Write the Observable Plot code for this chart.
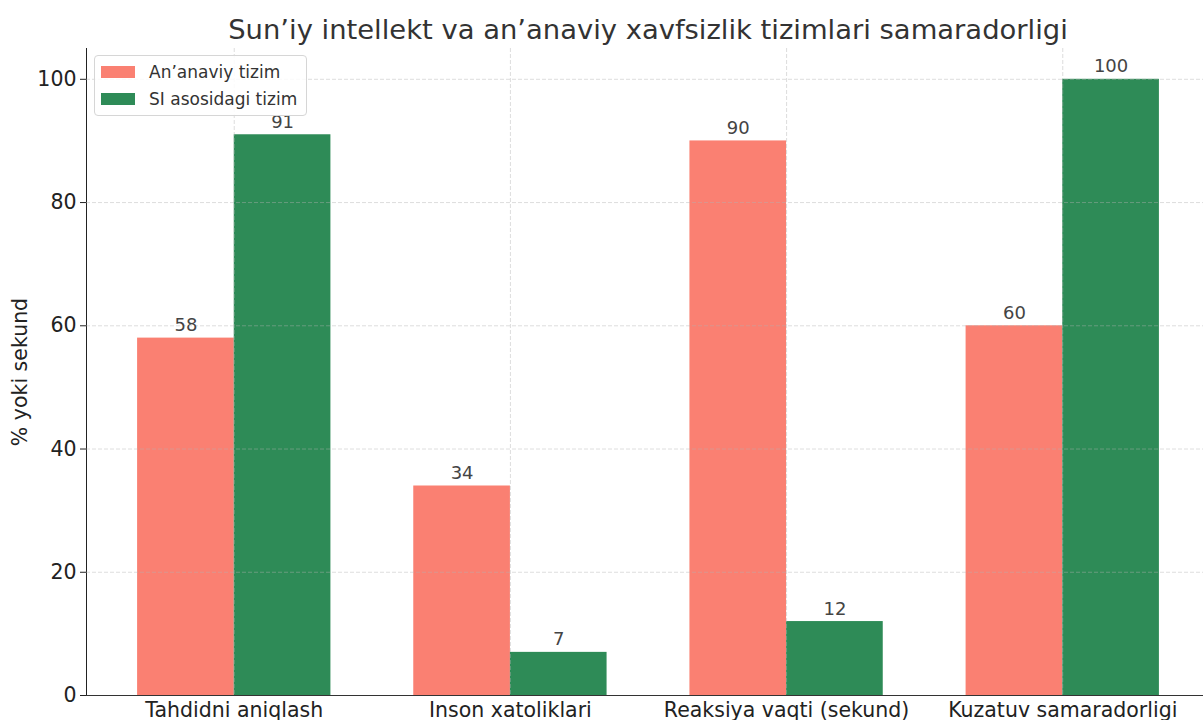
<!DOCTYPE html>
<html>
<head>
<meta charset="utf-8">
<script src="https://cdn.jsdelivr.net/npm/d3@7"></script>
<script src="https://cdn.jsdelivr.net/npm/@observablehq/plot@0.6"></script>
<style>
html, body { margin: 0; padding: 0; background: #fff; overflow: hidden; }
body { font-family: "DejaVu Sans", sans-serif; width: 1203px; height: 720px; position: relative; }
#title { position: absolute; left: 86px; width: 1124px; top: 16px; line-height: 28px; text-align: center; font-size: 27.4px; color: #333; white-space: nowrap; }
#chart { position: absolute; left: 0; top: 40px; width: 1230px; }
#chart svg { max-width: none !important; }
#ylabel { position: absolute; left: 20px; top: 372px; transform: translate(-50%, -50%) rotate(-90deg); font-size: 20.5px; color: #222; white-space: nowrap; }
#legend { position: absolute; left: 94px; top: 55px; width: 213px; height: 61px; border: 1px solid #d6d6d6; border-radius: 4px; background: rgba(255,255,255,0.85); box-sizing: border-box; }
.item { position: absolute; left: 6px; height: 20px; display: flex; align-items: center; font-size: 17px; color: #333; white-space: nowrap; }
.sw { width: 34px; height: 12px; margin-right: 14px; }
</style>
</head>
<body>
<div id="title">Sun’iy intellekt va an’anaviy xavfsizlik tizimlari samaradorligi</div>
<div id="chart"></div>
<div id="ylabel">% yoki sekund</div>
<div id="legend"></div>
<script>
const categories = ["Tahdidni aniqlash", "Inson xatoliklari", "Reaksiya vaqti (sekund)", "Kuzatuv samaradorligi"];
const seriesNames = ["An’anaviy tizim", "SI asosidagi tizim"];
const traditional = [58, 34, 90, 60];
const aiBased = [91, 7, 12, 100];
const yTicks = [0, 20, 40, 60, 80, 100];
const colors = ["#FA8072", "#2E8B57"];

const barWidth = 0.35;
const offsets = [-barWidth, 0];
const seriesValues = [traditional, aiBased];

const rows = [];
categories.forEach((c, i) => {
  seriesValues.forEach((vals, s) => {
    rows.push({category: c, index: i, series: seriesNames[s], s, value: vals[i]});
  });
});
const xTicks = categories.map((_, i) => i);

const chart = Plot.plot({
  width: 1230,
  height: 700,
  marginLeft: 86,
  marginRight: 20,
  marginTop: 8,
  marginBottom: 45,
  style: {fontFamily: "DejaVu Sans, sans-serif", fontSize: "20.5px", color: "#222", background: "transparent", overflow: "visible", maxWidth: "none"},
  x: {domain: [-0.535, 3.535], ticks: xTicks, tickFormat: i => categories[i], tickSize: 0, tickPadding: 7, label: null},
  y: {domain: [0, 105], ticks: yTicks, tickSize: 6, tickPadding: 4, line: true, label: null},
  color: {domain: seriesNames, range: colors},
  marks: [
    Plot.rectY(rows, {
      x1: d => d.index + offsets[d.s],
      x2: d => d.index + offsets[d.s] + barWidth,
      y: "value",
      fill: "series"
    }),
    Plot.gridY(yTicks, {stroke: "#b0b0b0", strokeOpacity: 0.55, strokeDasharray: "4,2", strokeWidth: 0.8}),
    Plot.gridX(xTicks, {stroke: "#b0b0b0", strokeOpacity: 0.55, strokeDasharray: "4,2", strokeWidth: 0.8}),
    Plot.text(rows, {
      x: d => d.index + offsets[d.s] + barWidth / 2,
      y: "value",
      text: d => String(d.value),
      dy: -7,
      lineAnchor: "bottom",
      fontSize: 18,
      fill: "#444"
    }),
    Plot.ruleY([0], {stroke: "#333", strokeWidth: 1.2})
  ]
});
document.getElementById("chart").appendChild(chart);

const legend = document.getElementById("legend");
seriesNames.forEach((name, s) => {
  const item = document.createElement("div");
  item.className = "item";
  item.style.top = (6 + s * 27) + "px";
  const sw = document.createElement("div");
  sw.className = "sw";
  sw.style.background = colors[s];
  const label = document.createElement("span");
  label.textContent = name;
  item.appendChild(sw);
  item.appendChild(label);
  legend.appendChild(item);
});
</script>
</body>
</html>
